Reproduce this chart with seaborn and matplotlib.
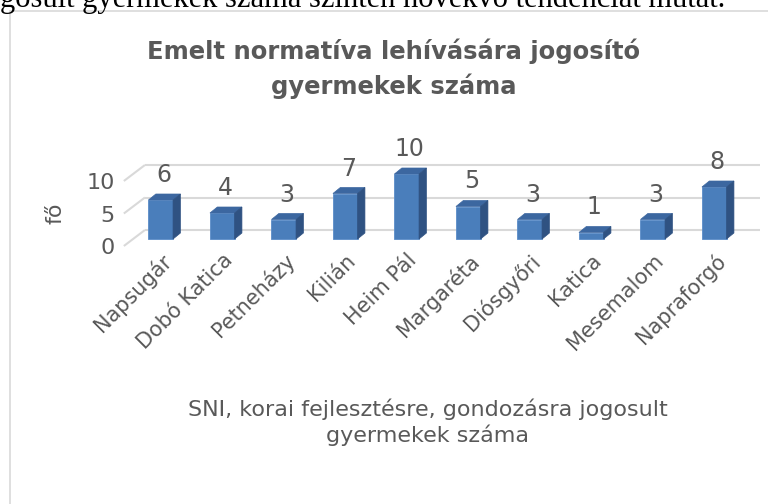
import numpy as np
import pandas as pd
import matplotlib
matplotlib.use("Agg")
import matplotlib.pyplot as plt
from matplotlib.patches import Polygon
from matplotlib.lines import Line2D
import seaborn as sns

# adatok
ovodak = ['Napsugár', 'Dobó Katica', 'Petneházy', 'Kilián', 'Heim Pál',
          'Margaréta', 'Diósgyőri', 'Katica', 'Mesemalom', 'Napraforgó']
gyermekek = [6, 4, 3, 7, 10, 5, 3, 1, 3, 8]
y_ticks = [0, 5, 10]

cim = 'Emelt normatíva lehívására jogosító\ngyermekek száma'
x_cim = 'SNI, korai fejlesztésre, gondozásra jogosult\ngyermekek száma'
y_cim = 'fő'
felso_szoveg = 'gosult gyermekek száma szintén növekvő tendenciát mutat.'

W, H = 768, 504
SZURKE = '#595959'
RACS = '#d9d9d9'
ELO = '#4a7ebb'
TETO = '#3c67a0'
OLDAL = '#2f5282'

sns.set_theme(style='white')
plt.rcParams['font.family'] = ['DejaVu Sans']

fig = plt.figure(figsize=(W / 100, H / 100), dpi=100)

# diagram keret (a kép szélén túl folytatódik)
fig.add_artist(Line2D([10 / W, 10 / W], [0, 1 - 11 / H], color=RACS, lw=1.2))
fig.add_artist(Line2D([10 / W, 1], [1 - 11 / H, 1 - 11 / H], color=RACS, lw=1.2))

# levágott szövegsor a kép tetején
fig.text(0, 1 - 7 / H, felso_szoveg, family='Liberation Serif', fontsize=22,
         color='black', va='baseline', ha='left')

fig.text(394 / W, 1 - 39 / H, cim, ha='center', va='top', fontsize=17.5,
         fontweight='bold', color=SZURKE, linespacing=1.45)

# rajzterület pixelben
L, R, T, B = 130, 745, 140, 250
ax = fig.add_axes([L / W, 1 - B / H, (R - L) / W, (B - T) / H])
bal = (L - 172) / 58.33
jobb = (R - 172) / 58.33
ax.set_xlim(bal, jobb)
ax.set_ylim(-(B - 239) / 6.5, (239 - T) / 6.5)

px = (R - L) / (jobb - bal)
py = 6.5
fal = 9 / py          # hátsó fal eltolása
mely = 16 / py        # oldalfal mélysége

for v in y_ticks:
    ax.plot([(137 - 172) / 58.33, (157 - 172) / 58.33], [v + fal - mely, v + fal],
            color=RACS, lw=1.5, zorder=1, solid_capstyle='butt', clip_on=False)
    ax.plot([(157 - 172) / 58.33, (740 - 172) / 58.33], [v + fal, v + fal],
            color=RACS, lw=1.5, zorder=1, solid_capstyle='butt', clip_on=False)

df = pd.DataFrame({'ovoda': ovodak, 'db': gyermekek})
sns.barplot(data=df, x='ovoda', y='db', color=ELO, width=0.4, saturation=1,
            ax=ax, zorder=3, edgecolor='#5b8cc8', linewidth=0.6)

ddx, ddy = 7 / px, 6 / py
for p, v in zip(ax.patches, gyermekek):
    x0, w, h = p.get_x(), p.get_width(), p.get_height()
    ax.add_patch(Polygon([(x0, h), (x0 + w, h), (x0 + w + ddx, h + ddy), (x0 + ddx, h + ddy)],
                         closed=True, facecolor=TETO, edgecolor=TETO, lw=0.5, zorder=3))
    ax.add_patch(Polygon([(x0 + w, 0), (x0 + w + ddx, ddy), (x0 + w + ddx, h + ddy), (x0 + w, h)],
                         closed=True, facecolor=OLDAL, edgecolor=OLDAL, lw=0.5, zorder=3))
    ax.annotate(str(v), (x0 + w / 2, h), xytext=(3, 25), textcoords='offset pixels',
                ha='center', va='center', fontsize=17, color=SZURKE)

ax.set_yticks([v + fal - mely for v in y_ticks])
ax.set_yticklabels([str(v) for v in y_ticks])
ax.tick_params(axis='y', length=0, pad=11, labelsize=16, labelcolor=SZURKE)
ax.tick_params(axis='x', length=0, pad=0, labelsize=15, labelcolor=SZURKE)
plt.setp(ax.get_xticklabels(), rotation=45, ha='right', rotation_mode='anchor')

ax.set_ylabel(y_cim, fontsize=16, color=SZURKE)
ax.yaxis.set_label_coords((65 - L) / (R - L), (B - 213) / (B - T))
ax.set_xlabel(x_cim, fontsize=16, color=SZURKE, linespacing=1.3)
ax.xaxis.set_label_coords((428 - L) / (R - L), (B - 398) / (B - T))
ax.xaxis.label.set_va('top')

for s in ax.spines.values():
    s.set_visible(False)
ax.patch.set_alpha(0)

fig.savefig('out.png', dpi=100, facecolor='white')
